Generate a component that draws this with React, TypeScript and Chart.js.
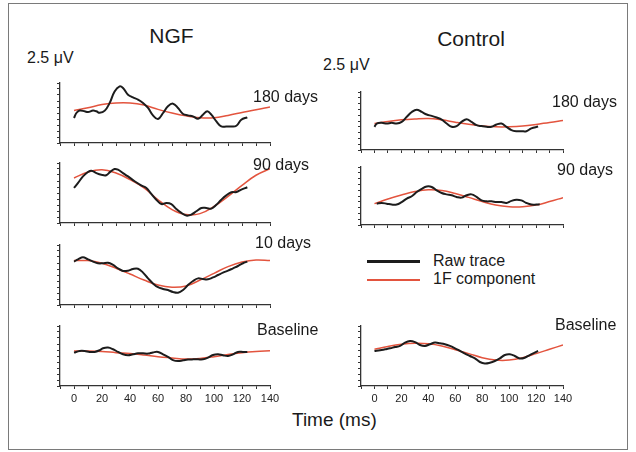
import React, { useEffect, useRef } from 'react';
import { Chart, registerables } from 'chart.js';

Chart.register(...registerables);

// ---------- data (time in ms, amplitude in µV) ----------
const fitTimes = [0, 10, 20, 30, 40, 50, 60, 70, 80, 90, 100, 110, 120, 130, 140];
const xTickLabels = ['0', '20', '40', '60', '80', '100', '120', '140'];

// NGF 180 days
const ngf180RawT = [0, 1.7, 4.0, 7.6, 10.0, 13.6, 16.0, 18.3, 22.0, 25.5, 29.0, 32.6, 35.0, 38.6, 42.1, 45.7, 49.3, 52.9, 56.4, 60.0, 63.6, 67.1, 70.7, 74.3, 77.9, 81.4, 85.0, 88.6, 92.1, 95.2, 98.1, 101.7, 105.2, 108.8, 112.4, 116.0, 119.5, 123.8];
const ngf180RawV = [-0.21, 0, 0.10, 0.07, 0.04, 0.10, 0.07, 0.01, 0.10, 0.42, 0.90, 1.11, 1.04, 0.76, 0.65, 0.56, 0.42, 0.21, -0.10, -0.25, 0, 0.28, 0.39, 0.21, -0.04, -0.10, -0.14, -0.24, -0.07, 0.07, -0.07, -0.35, -0.56, -0.56, -0.56, -0.53, -0.28, -0.18];
const ngf180Fit = [0.10, 0.22, 0.35, 0.42, 0.42, 0.33, 0.15, 0.0, -0.12, -0.2, -0.2, -0.1, 0.02, 0.14, 0.25];

// NGF 90 days
const ngf90RawT = [0, 2.9, 6.4, 10, 12.4, 16, 19.5, 23, 26.2, 29, 31.4, 35, 38.6, 43.3, 48, 51.7, 55.2, 58.8, 62.4, 65.9, 69.5, 73.1, 76.7, 80.2, 83.8, 87.4, 91, 94.5, 98.1, 101.7, 105.2, 108.8, 112.4, 116, 119.5, 123.8];
const ngf90RawV = [0.21, 0.42, 0.69, 0.875, 0.93, 0.83, 0.76, 0.74, 0.90, 1.0, 0.97, 0.83, 0.69, 0.49, 0.32, 0.21, -0.04, -0.28, -0.46, -0.42, -0.46, -0.67, -0.83, -0.94, -0.90, -0.76, -0.625, -0.625, -0.65, -0.49, -0.28, -0.10, 0.03, 0.04, 0.14, 0.24];
const ngf90Fit = [0.625, 0.875, 0.97, 0.83, 0.56, 0.21, -0.28, -0.69, -0.9, -0.86, -0.56, -0.14, 0.32, 0.74, 1.01];

// NGF 10 days
const ngf10RawT = [0, 2.9, 6.4, 10, 13.6, 17.1, 20.7, 24.3, 27.9, 31.4, 35, 38.6, 42.1, 45.7, 49.3, 52.9, 56.4, 60, 63.6, 67.1, 70.7, 74.3, 77.9, 81.4, 85, 88.6, 92.1, 95.7, 99.3, 102.9, 106.4, 110, 113.6, 117.1, 120.7, 123.8];
const ngf10RawV = [0.56, 0.65, 0.74, 0.65, 0.56, 0.49, 0.49, 0.51, 0.42, 0.28, 0.17, 0.18, 0.25, 0.26, 0.10, -0.14, -0.35, -0.51, -0.58, -0.625, -0.71, -0.74, -0.625, -0.42, -0.25, -0.14, -0.17, -0.18, -0.10, 0, 0.10, 0.18, 0.28, 0.375, 0.49, 0.56];
const ngf10Fit = [0.6, 0.6, 0.49, 0.28, 0.04, -0.21, -0.42, -0.51, -0.46, -0.21, 0.07, 0.35, 0.54, 0.625, 0.6];

// NGF baseline
const ngfBaseRawT = [0, 4.0, 7.6, 11.2, 14.8, 18.3, 20.7, 24.3, 27.9, 31.4, 35, 38.6, 42.1, 45.7, 49.3, 52.9, 56.4, 60, 63.6, 67.1, 70.7, 74.3, 77.9, 81.4, 85, 88.6, 92.1, 95.7, 99.3, 102.9, 106.4, 110, 113.6, 117.1, 120.7, 123.8];
const ngfBaseRawV = [0.14, 0.21, 0.21, 0.17, 0.17, 0.24, 0.32, 0.35, 0.28, 0.17, 0.07, 0.03, 0.07, 0.11, 0.11, 0.10, 0.15, 0.17, 0.07, -0.04, -0.17, -0.21, -0.18, -0.15, -0.14, -0.14, -0.14, -0.07, 0.04, 0.07, 0.03, 0, 0.07, 0.17, 0.17, 0.17];
const ngfBaseFit = [0.21, 0.21, 0.19, 0.14, 0.10, 0.04, -0.03, -0.08, -0.125, -0.1, -0.03, 0.06, 0.14, 0.19, 0.22];

// Control 180 days
const ctl180RawT = [0, 1.7, 5.4, 9.1, 12.8, 16.5, 20.2, 24.0, 27.7, 31.4, 35.1, 38.8, 42.5, 46.2, 49.9, 53.6, 57.3, 61.0, 64.7, 68.4, 72.1, 75.8, 79.5, 83.2, 86.9, 90.6, 94.3, 98.0, 101.7, 105.4, 109.1, 112.8, 116.5, 121.5];
const ctl180RawV = [-0.25, -0.11, -0.08, -0.11, -0.08, -0.11, -0.04, 0.18, 0.39, 0.49, 0.39, 0.28, 0.22, 0.15, 0.06, -0.11, -0.25, -0.22, -0.04, 0.08, -0.04, -0.18, -0.22, -0.25, -0.25, -0.15, -0.11, -0.25, -0.39, -0.44, -0.44, -0.44, -0.32, -0.24];
const ctl180Fit = [-0.11, -0.02, 0.05, 0.09, 0.11, 0.05, -0.05, -0.14, -0.21, -0.25, -0.25, -0.22, -0.15, -0.06, 0.02];

// Control 90 days
const ctl90RawT = [1.7, 5.4, 9.1, 12.8, 16.5, 20.2, 24.0, 27.7, 31.4, 35.1, 38.8, 42.5, 46.2, 49.9, 53.6, 57.3, 61.0, 64.7, 68.4, 72.1, 75.8, 79.5, 83.2, 86.9, 90.6, 94.3, 98.0, 101.7, 105.4, 109.1, 112.8, 116.5, 120.2, 122.7];
const ctl90RawV = [-0.33, -0.30, -0.33, -0.37, -0.37, -0.26, -0.11, -0.01, 0.17, 0.31, 0.41, 0.39, 0.24, 0.13, 0.07, 0.03, -0.04, -0.07, 0.03, 0.07, -0.04, -0.19, -0.23, -0.23, -0.26, -0.26, -0.30, -0.21, -0.16, -0.19, -0.30, -0.37, -0.37, -0.36];
const ctl90Fit = [-0.33, -0.13, 0.04, 0.19, 0.27, 0.24, 0.11, -0.06, -0.24, -0.39, -0.46, -0.46, -0.39, -0.24, -0.07];

// Control baseline
const ctlBaseRawT = [0, 4.2, 7.9, 11.6, 15.3, 19.0, 22.7, 26.4, 30.1, 33.8, 37.5, 41.2, 45.0, 48.6, 52.3, 56.0, 59.8, 63.5, 67.2, 70.9, 74.6, 78.3, 82.0, 85.7, 89.4, 93.1, 96.8, 100.5, 104.2, 107.9, 111.6, 115.3, 119.0, 121.5];
const ctlBaseRawV = [0.21, 0.24, 0.28, 0.32, 0.375, 0.42, 0.56, 0.625, 0.58, 0.46, 0.42, 0.49, 0.56, 0.53, 0.49, 0.42, 0.32, 0.21, 0.10, 0, -0.10, -0.25, -0.31, -0.28, -0.21, -0.10, 0.04, 0.07, 0, -0.10, -0.07, 0.04, 0.14, 0.21];
const ctlBaseFit = [0.28, 0.4, 0.49, 0.53, 0.51, 0.42, 0.26, 0.1, -0.07, -0.17, -0.17, -0.07, 0.1, 0.28, 0.46];

// ---------- style ----------
const FONT = '"Liberation Sans", Arial, Helvetica, sans-serif';
const BLACK = '#1c1c1c';
const RED = '#e3543e';
const AXIS = '#333333';
const X_MIN = -10;
const X_MAX = 140;
const Y_MIN = -1.25;
const Y_MAX = 1.25;

type PanelProps = {
  left: number;
  top: number;
  width: number;
  height: number;
  rawT: number[];
  rawV: number[];
  fitV: number[];
  showLabels?: boolean;
};

function Panel({ left, top, width, height, rawT, rawV, fitV, showLabels = false }: PanelProps) {
  const ref = useRef<HTMLCanvasElement>(null);
  const PAD_L = 5;
  const PAD_T = 4;
  const PAD_R = showLabels ? 14 : 6;
  const XH = showLabels ? 20 : 5;
  const cw = Math.round(width + PAD_L + PAD_R);
  const ch = Math.round(height + PAD_T + XH);

  useEffect(() => {
    if (!ref.current) return;
    const chart = new Chart(ref.current, {
      type: 'line',
      data: {
        datasets: [
          {
            label: 'Raw trace',
            data: rawT.map((t, i) => ({ x: t, y: rawV[i] })),
            borderColor: BLACK,
            borderWidth: 2,
            pointRadius: 0,
            tension: 0.4,
            fill: false,
          },
          {
            label: '1F component',
            data: fitTimes.map((t, i) => ({ x: t, y: fitV[i] })),
            borderColor: RED,
            borderWidth: 1.5,
            pointRadius: 0,
            tension: 0.4,
            fill: false,
          },
        ],
      },
      options: {
        animation: false,
        responsive: false,
        maintainAspectRatio: false,
        events: [],
        layout: { padding: { left: 0, top: PAD_T, right: PAD_R, bottom: 0 } },
        plugins: { legend: { display: false }, tooltip: { enabled: false }, title: { display: false } },
        scales: {
          x: {
            type: 'linear',
            min: X_MIN,
            max: X_MAX,
            afterFit: (s: any) => {
              s.height = XH;
              s.paddingLeft = 0;
              s.paddingRight = 0;
            },
            border: { display: true, color: AXIS, width: 1.3 },
            grid: { drawOnChartArea: false, drawTicks: true, tickLength: 3, color: AXIS, lineWidth: 1 },
            ticks: {
              stepSize: 10,
              autoSkip: false,
              maxRotation: 0,
              minRotation: 0,
              display: showLabels,
              padding: 3,
              color: '#222',
              font: { family: FONT, size: 11 },
              callback: (v: any) => {
                const s = String(v);
                return xTickLabels.includes(s) ? s : '';
              },
            },
          },
          y: {
            type: 'linear',
            min: Y_MIN,
            max: Y_MAX,
            afterFit: (s: any) => {
              s.width = PAD_L;
              s.paddingTop = 0;
              s.paddingBottom = 0;
            },
            border: { display: true, color: AXIS, width: 1.3 },
            grid: { drawOnChartArea: false, drawTicks: true, tickLength: 3, color: AXIS, lineWidth: 1 },
            ticks: { stepSize: 0.25, display: false },
          },
        },
      },
    });
    return () => chart.destroy();
  }, []);

  return (
    <canvas
      ref={ref}
      width={cw}
      height={ch}
      style={{ position: 'absolute', left: left - PAD_L, top: top - PAD_T, width: cw, height: ch }}
    />
  );
}

function Label({ text, left, cy, size = 16, center = false }: { text: string; left: number; cy: number; size?: number; center?: boolean }) {
  return (
    <div
      style={{
        position: 'absolute',
        left: center ? left - 100 : left,
        width: center ? 200 : undefined,
        textAlign: center ? 'center' : 'left',
        top: cy - size * 0.5,
        fontFamily: FONT,
        fontSize: size,
        lineHeight: 1,
        color: '#1a1a1a',
        whiteSpace: 'nowrap',
      }}
    >
      {text}
    </div>
  );
}

export default function App() {
  return (
    <div style={{ position: 'absolute', left: 0, top: 0, width: 636, height: 452, background: '#fff', overflow: 'hidden' }}>
      <div
        style={{
          position: 'absolute',
          left: 8,
          top: 3,
          width: 620,
          height: 447,
          border: '1.5px solid #7a7a7a',
          boxSizing: 'border-box',
        }}
      />

      <Label text="NGF" left={171.5} cy={35} size={21} center />
      <Label text="Control" left={471} cy={38} size={21} center />
      <Label text="2.5 μV" left={27} cy={58} size={16} />
      <Label text="2.5 μV" left={323} cy={65} size={16} />

      <Panel left={60} top={83} width={210} height={60} rawT={ngf180RawT} rawV={ngf180RawV} fitV={ngf180Fit} />
      <Panel left={60} top={163} width={210} height={60} rawT={ngf90RawT} rawV={ngf90RawV} fitV={ngf90Fit} />
      <Panel left={60} top={245} width={210} height={60} rawT={ngf10RawT} rawV={ngf10RawV} fitV={ngf10Fit} />
      <Panel left={60} top={326} width={210} height={60} rawT={ngfBaseRawT} rawV={ngfBaseRawV} fitV={ngfBaseFit} showLabels />

      <Panel left={361} top={92} width={202} height={58} rawT={ctl180RawT} rawV={ctl180RawV} fitV={ctl180Fit} />
      <Panel left={361} top={167} width={202} height={58} rawT={ctl90RawT} rawV={ctl90RawV} fitV={ctl90Fit} />
      <Panel left={361} top={326} width={202} height={60} rawT={ctlBaseRawT} rawV={ctlBaseRawV} fitV={ctlBaseFit} showLabels />

      <Label text="180 days" left={253} cy={97} />
      <Label text="90 days" left={253} cy={165} />
      <Label text="10 days" left={255} cy={243} />
      <Label text="Baseline" left={257} cy={330} />
      <Label text="180 days" left={552} cy={102} />
      <Label text="90 days" left={557} cy={170} />
      <Label text="Baseline" left={555} cy={325} />

      <div style={{ position: 'absolute', left: 367, top: 260, width: 53, height: 2.5, background: BLACK }} />
      <div style={{ position: 'absolute', left: 367, top: 279, width: 53, height: 1.8, background: RED }} />
      <Label text="Raw trace" left={433} cy={261} size={16} />
      <Label text="1F component" left={433} cy={279} size={16} />

      <Label text="Time (ms)" left={292} cy={419} size={19} />
    </div>
  );
}
